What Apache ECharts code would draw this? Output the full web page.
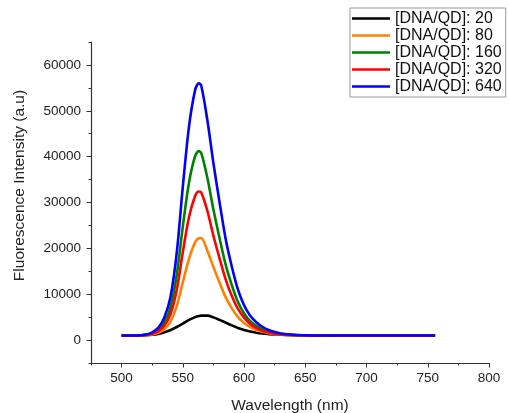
<!DOCTYPE html>
<html>
<head>
<meta charset="utf-8">
<script src="https://cdn.jsdelivr.net/npm/echarts@6/dist/echarts.min.js"></script>
<style>html,body{margin:0;padding:0;background:#fff;}#c{width:509px;height:413px;}</style>
</head>
<body>
<div id="c"></div>
<script>
var wavelengths = [500,510,515,520,525,530,535,540,545,550,555,560,563,565,570,575,580,585,590,595,600,605,610,615,620,625,630,640,650,660,680,700,720,740,756];
var ratio20  = [1000,1000,1020,1050,1150,1350,1700,2200,2850,3600,4400,5000,5250,5340,5330,4950,4400,3800,3200,2650,2200,1850,1600,1420,1300,1200,1150,1080,1030,1010,1000,1000,1000,1000,1000];
var ratio80  = [1000,1000,1020,1070,1230,1580,2400,4100,7400,12600,17700,21300,22200,22250,19500,15900,12500,9300,6900,5000,3700,2800,2200,1800,1500,1300,1180,1070,1020,1000,1000,1000,1000,1000,1000];
var ratio160 = [1000,1000,1040,1150,1500,2250,3900,7200,14200,24800,34300,40100,41200,40800,35400,28400,22200,16400,12000,8300,5800,4100,3100,2400,1900,1550,1330,1110,1040,1000,1000,1000,1000,1000,1000];
var ratio320 = [1000,1000,1030,1110,1400,1950,3200,5700,10900,19200,26800,31400,32400,32200,28200,22700,17800,13200,9600,6800,4900,3500,2600,2000,1650,1400,1250,1090,1030,1000,1000,1000,1000,1000,1000];
var ratio640 = [1000,1000,1050,1200,1700,2700,5000,9500,19000,33500,46500,54500,56000,55500,48000,38500,30000,22000,16000,11000,7600,5300,3900,2900,2200,1750,1450,1150,1050,1000,1000,1000,1000,1000,1000];
var seriesNames = ['[DNA/QD]: 20','[DNA/QD]: 80','[DNA/QD]: 160','[DNA/QD]: 320','[DNA/QD]: 640'];
var seriesData = [ratio20, ratio80, ratio160, ratio320, ratio640];
var colors = ['#000000','#FF8000','#008000','#FF0000','#0000FF'];
var xMajor = [500,550,600,650,700,750,800];
var xMinor = [475,525,575,625,675,725,775];
var yMajor = [0,10000,20000,30000,40000,50000,60000];
var yMinor = [-5000,5000,15000,25000,35000,45000,55000,65000];

function pairs(d){ return wavelengths.map(function(w,i){ return [w,d[i]]; }); }

var chart = echarts.init(document.getElementById('c'));
var font = 'Liberation Sans, Arial, sans-serif';
var axisColor = '#333';
var gridPos = {left:91, right:20, top:42, bottom:50, containLabel:false, outerBoundsMode:'none'};
chart.setOption({
  animation:false,
  color: colors,
  grid:[Object.assign({},gridPos),Object.assign({},gridPos)],
  legend:{
    orient:'vertical', left:350, top:8,
    padding:[2,4,2,2], itemGap:0, itemWidth:38, itemHeight:2.5,
    icon:'rect', borderColor:'#999', borderWidth:1,
    textStyle:{fontFamily:font, fontSize:16, color:'#111', lineHeight:17},
    data: seriesNames
  },
  xAxis:[{
    gridIndex:0, type:'value', min:475, max:800, position:'bottom',
    name:'Wavelength (nm)', nameLocation:'middle', nameGap:35,
    nameTextStyle:{fontFamily:font, fontSize:15.5, color:'#222'},
    axisLine:{show:true, onZero:false, lineStyle:{color:axisColor, width:1.2}},
    axisTick:{show:true, length:4.5, customValues:xMajor, lineStyle:{color:axisColor}},
    axisLabel:{customValues:xMajor, fontFamily:font, fontSize:13.5, color:'#222', margin:8,
      formatter:function(v){ return String(v); }},
    splitLine:{show:false}
  },{
    gridIndex:1, type:'value', min:475, max:800, position:'bottom',
    axisLine:{show:false, onZero:false}, axisLabel:{show:false}, splitLine:{show:false},
    axisTick:{show:true, length:2.5, customValues:xMinor, lineStyle:{color:axisColor}}
  }],
  yAxis:[{
    gridIndex:0, type:'value', min:-5000, max:65000, position:'left',
    name:'Fluorescence Intensity (a.u)', nameLocation:'middle', nameGap:63,
    nameTextStyle:{fontFamily:font, fontSize:15.5, color:'#222', padding:[0,0,0,34]},
    axisLine:{show:true, onZero:false, lineStyle:{color:axisColor, width:1.2}},
    axisTick:{show:true, length:4.5, customValues:yMajor, lineStyle:{color:axisColor}},
    axisLabel:{customValues:yMajor, fontFamily:font, fontSize:13.5, color:'#222', margin:10,
      formatter:function(v){ return String(v); }},
    splitLine:{show:false}
  },{
    gridIndex:1, type:'value', min:-5000, max:65000, position:'left',
    axisLine:{show:false, onZero:false}, axisLabel:{show:false}, splitLine:{show:false},
    axisTick:{show:true, length:2.5, customValues:yMinor, lineStyle:{color:axisColor}}
  }],
  series: seriesData.map(function(d,i){
    return {
      name:seriesNames[i], type:'line', xAxisIndex:0, yAxisIndex:0,
      data:pairs(d), smooth:0.3, showSymbol:false, symbol:'none',
      lineStyle:{color:colors[i], width:2.6}, itemStyle:{color:colors[i]}
    };
  })
});
</script>
</body>
</html>
